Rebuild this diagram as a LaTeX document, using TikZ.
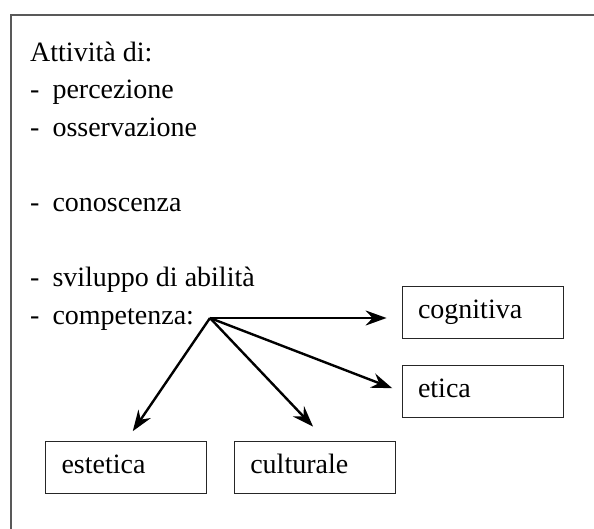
\documentclass[tikz,border=0pt]{standalone}
\usepackage{fontspec}
\setmainfont{Liberation Serif}
\usetikzlibrary{positioning, arrows.meta}
\newcommand{\voce}[1]{-\hspace{13pt}#1}

\begin{document}
\begin{tikzpicture}[x=1pt, y=1pt,
  item/.style={anchor=base west, inner sep=0pt,
               font=\fontsize{28}{37.5}\selectfont},
  area/.style={draw=black!65, line width=1.5pt},
  ramo/.style={draw=black!85, fill=white, line width=0.8pt,
               text width=129pt, inner xsep=16pt, inner ysep=0pt,
               minimum height=52pt, align=left,
               text height=18.5pt, text depth=6.2pt,
               font=\fontsize{28}{34}\selectfont},
  freccia/.style={line width=2.4pt,
                  -{Stealth[length=21pt, width=15pt, inset=7pt]}},
]
\useasboundingbox (0,0) rectangle (594,528);
\clip (0,0) rectangle (594,528);
\draw[area] (11,-20) rectangle (640,513);

\node[item] (l1) at (30,466.5) {Attività\ di:};
\node[item] (l2) at (30,429) {\voce{percezione}};
\node[item] (l3) at (30,391.5) {\voce{osservazione}};
\node[item] (l4) at (30,316.5) {\voce{conoscenza}};
\node[item] (l5) at (30,241.5) {\voce{sviluppo di abilità}};
\node[item] (l6) at (30,203.5) {\voce{competenza:}};

\coordinate (hub) at (210,210);

\node[ramo] (cogn) at (482.5,216) {cognitiva};
\node[ramo, below=27pt of cogn] (etica) {etica};
\node[ramo] (este) at (126,60.5) {estetica};
\node[ramo, right=27pt of este] (cult) {culturale};

\draw[freccia, shorten >=15pt] (hub) -- (hub -| cogn.west);
\draw[freccia, shorten >=10pt] (hub) -- (etica.west);
\draw[freccia, shorten >=20pt] (hub) -- ([xshift=12pt]cult.north);
\draw[freccia, shorten >=12pt] (hub) -- (este.north);
\end{tikzpicture}
\end{document}
